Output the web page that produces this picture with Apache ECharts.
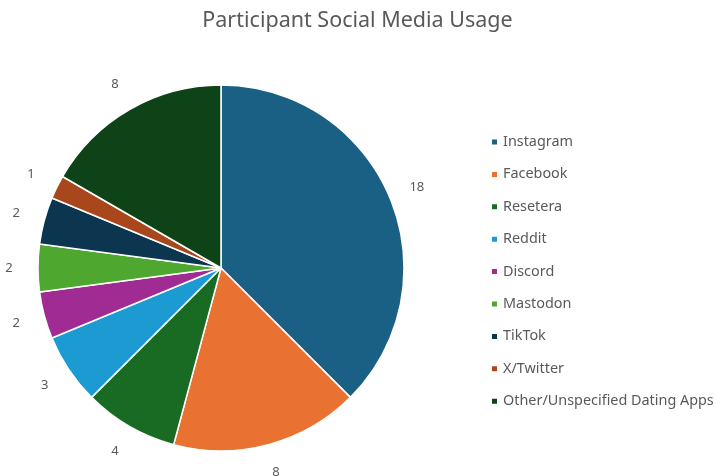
<!DOCTYPE html>
<html><head><meta charset="utf-8">
<script src="https://cdn.jsdelivr.net/npm/echarts@6/dist/echarts.min.js"></script>
<style>html,body{margin:0;padding:0;background:#fff}#c{width:715px;height:476px}</style>
</head><body><div id="c"></div>
<script>
const categories = ["Instagram","Facebook","Resetera","Reddit","Discord","Mastodon","TikTok","X/Twitter","Other/Unspecified Dating Apps"];
const values = [18,8,4,3,2,2,2,1,8];
const colors = ["#1a5f84","#e97132","#196b24","#1c9bd2","#a02b93","#4ea72e","#0c3550","#a8461c","#0e4217"];
const title = "Participant Social Media Usage";

const data = categories.map((n,i)=>({name:n,value:values[i],itemStyle:{color:colors[i]}}));
const center = [221, 268];
const chart = echarts.init(document.getElementById('c'));
chart.setOption({
  animation:false,
  textStyle:{fontFamily:'Noto Sans'},
  title:{text:title,left:'center',top:5,textStyle:{fontSize:21.5,fontWeight:'normal',color:'#595959',fontFamily:'Noto Sans'}},
  legend:{orient:'vertical',left:485,top:128,data:categories,icon:'rect',itemWidth:7,itemHeight:7,itemGap:14.4,
    textStyle:{fontSize:14.4,color:'#595959',lineHeight:18,fontFamily:'Noto Sans'}},
  series:[
    {type:'pie',center:center,radius:183,startAngle:90,clockwise:true,data:data,
     itemStyle:{borderColor:'#fff',borderWidth:1.5},label:{show:false},labelLine:{show:false},emphasis:{disabled:true}},
    {type:'pie',center:center,radius:[186,232],startAngle:90,clockwise:true,silent:true,
     data:categories.map((n,i)=>({name:n,value:values[i],itemStyle:{color:'rgba(0,0,0,0)'}})),
     itemStyle:{borderWidth:0},
     label:{show:true,position:'inside',formatter:'{c}',fontSize:13,color:'#595959',fontFamily:'Noto Sans'},
     labelLine:{show:false},emphasis:{disabled:true}}
  ]
});
</script></body></html>
